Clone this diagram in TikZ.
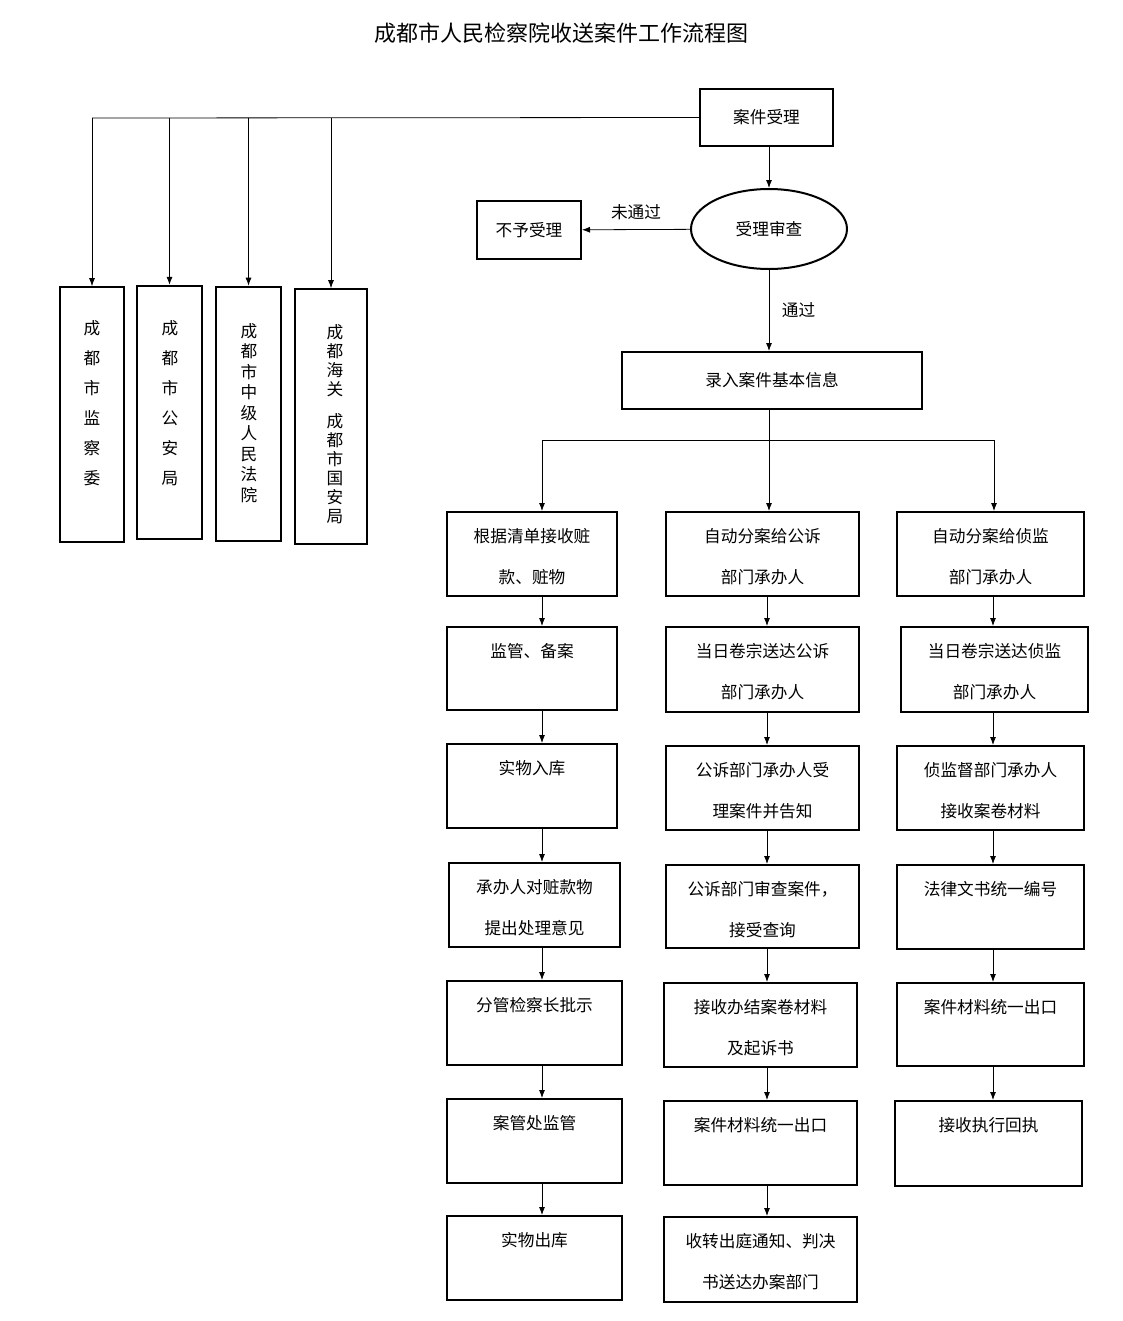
\documentclass[tikz,border=0pt]{standalone}
\usepackage{fontspec}
\setmainfont{Noto Sans CJK SC}
\usetikzlibrary{arrows.meta,shapes.geometric}
\begin{document}
\begin{tikzpicture}[x=0.75pt,y=-0.75pt,
  box/.style={draw,line width=1.5pt,inner sep=0,rectangle},
  txt/.style={font=\fontsize{12.5}{30.5}\selectfont,align=center,inner sep=0,anchor=north},
  arr/.style={line width=0.6pt,-{Latex[length=6pt,width=4.5pt]}},
  ln/.style={line width=0.6pt}]
\useasboundingbox (0,0) rectangle (1122,1321);
\newcommand{\bx}[6]{%
  \node[box,minimum width={(#4-#2)*0.75pt},minimum height={(#5-#3)*0.75pt}] (#1) at ({(#2+#4)/2},{(#3+#5)/2}) {};
  \node[txt] at ({(#2+#4)/2},{#3+16}) {#6};}
\node[font=\fontsize{16.5}{20}\selectfont] (title) at (561,33) {成都市人民检察院收送案件工作流程图};
\bx{acc}{700}{89}{833}{146}{}
\node[font=\fontsize{12.5}{20}\selectfont] at (acc) {案件受理};
\node[draw,ellipse,line width=1.5pt,minimum width=117pt,minimum height=60pt] (rev) at (769,229) {\fontsize{12.5}{20}\selectfont 受理审查};
\bx{rej}{477}{201}{581}{259}{}
\node[font=\fontsize{12.5}{20}\selectfont] at (rej) {不予受理};
\bx{rec}{622}{352}{922}{409}{}
\node[font=\fontsize{12.5}{20}\selectfont] at (rec) {录入案件基本信息};
\draw[arr] (acc.south -| rev.north) -- (rev.north);
\draw[arr] (rev) -- node[midway,above=4pt,font=\fontsize{12.5}{20}\selectfont]{未通过} (rej);
\draw[arr] (rev.south) -- node[pos=0.5,right=6pt,font=\fontsize{12.5}{20}\selectfont]{通过} (rev.south |- rec.north);
% left boxes
\node[box,minimum width=48pt,minimum height=191pt] (l1) at (92,414.5) {};
\node[box,minimum width=49pt,minimum height=190pt] (l2) at (169.5,412.5) {};
\node[box,minimum width=49pt,minimum height=191pt] (l3) at (248.5,414) {};
\node[box,minimum width=54pt,minimum height=191pt] (l4) at (331,416.5) {};
\node[font=\fontsize{12.5}{22.5}\selectfont,align=center,inner sep=0,anchor=north] at (92,320) {成\\都\\市\\监\\察\\委};
\node[font=\fontsize{12.5}{22.5}\selectfont,align=center,inner sep=0,anchor=north] at (170,320) {成\\都\\市\\公\\安\\局};
\node[font=\fontsize{12.5}{15.4}\selectfont,align=center,inner sep=0,anchor=north] at (249,323) {成\\都\\市\\中\\级\\人\\民\\法\\院};
\node[font=\fontsize{12.5}{14.2}\selectfont,align=center,inner sep=0,anchor=north] at (335,324) {成\\都\\海\\关\\[-4pt] \\成\\都\\市\\国\\安\\局};
\coordinate (tl) at (92,118);
\draw[ln] (acc.west) -- (tl);
\foreach \n in {l1,l2,l3,l4}{\draw[arr] (acc.west -| \n.north) -- (\n.north);}
% branches
\coordinate (br) at (769,440);
\draw[ln] (br |- rec.south) -- (br);
% column 1
\bx{a1}{447}{512}{617}{596}{根据清单接收赃\\款、赃物}
\bx{a2}{447}{627}{617}{710}{监管、备案}
\bx{a3}{447}{744}{617}{828}{实物入库}
\bx{a4}{449}{863}{620}{947}{承办人对赃款物\\提出处理意见}
\bx{a5}{447}{981}{622}{1065}{分管检察长批示}
\bx{a6}{447}{1099}{622}{1183}{案管处监管}
\bx{a7}{447}{1216}{622}{1300}{实物出库}
% column 2
\bx{b1}{666}{512}{859}{596}{自动分案给公诉\\部门承办人}
\bx{b2}{666}{627}{859}{712}{当日卷宗送达公诉\\部门承办人}
\bx{b3}{666}{746}{859}{830}{公诉部门承办人受\\理案件并告知}
\bx{b4}{666}{865}{859}{948}{公诉部门审查案件，\\接受查询}
\bx{b5}{664}{983}{857}{1067}{接收办结案卷材料\\及起诉书}
\bx{b6}{664}{1101}{857}{1185}{案件材料统一出口}
\bx{b7}{664}{1217}{857}{1302}{收转出庭通知、判决\\书送达办案部门}
% column 3
\bx{c1}{897}{512}{1084}{596}{自动分案给侦监\\部门承办人}
\bx{c2}{901}{627}{1088}{712}{当日卷宗送达侦监\\部门承办人}
\bx{c3}{897}{746}{1084}{830}{侦监督部门承办人\\接收案卷材料}
\bx{c4}{897}{865}{1084}{949}{法律文书统一编号}
\bx{c5}{897}{983}{1084}{1066}{案件材料统一出口}
\bx{c6}{895}{1101}{1082}{1186}{接收执行回执}
\coordinate (bl) at (542,440);
\coordinate (brr) at (994,440);
\draw[ln] (bl) -- (brr);
\draw[arr] (bl) -- (bl |- a1.north);
\draw[arr] (br) -- (br |- b1.north);
\draw[arr] (brr) -- (brr |- c1.north);
\foreach \p/\q in {a1/a2,a2/a3,a3/a4,a4/a5,a5/a6,a6/a7}{\draw[arr] (\p.south -| bl) -- (\q.north -| bl);}
\foreach \p/\q in {b1/b2,b2/b3,b3/b4,b4/b5,b5/b6,b6/b7}{\draw[arr] (\p.south -| 767,0) -- (\q.north -| 767,0);}
\foreach \p/\q in {c1/c2,c2/c3,c3/c4,c4/c5,c5/c6}{\draw[arr] (\p.south -| 993,0) -- (\q.north -| 993,0);}
\end{tikzpicture}
\end{document}
